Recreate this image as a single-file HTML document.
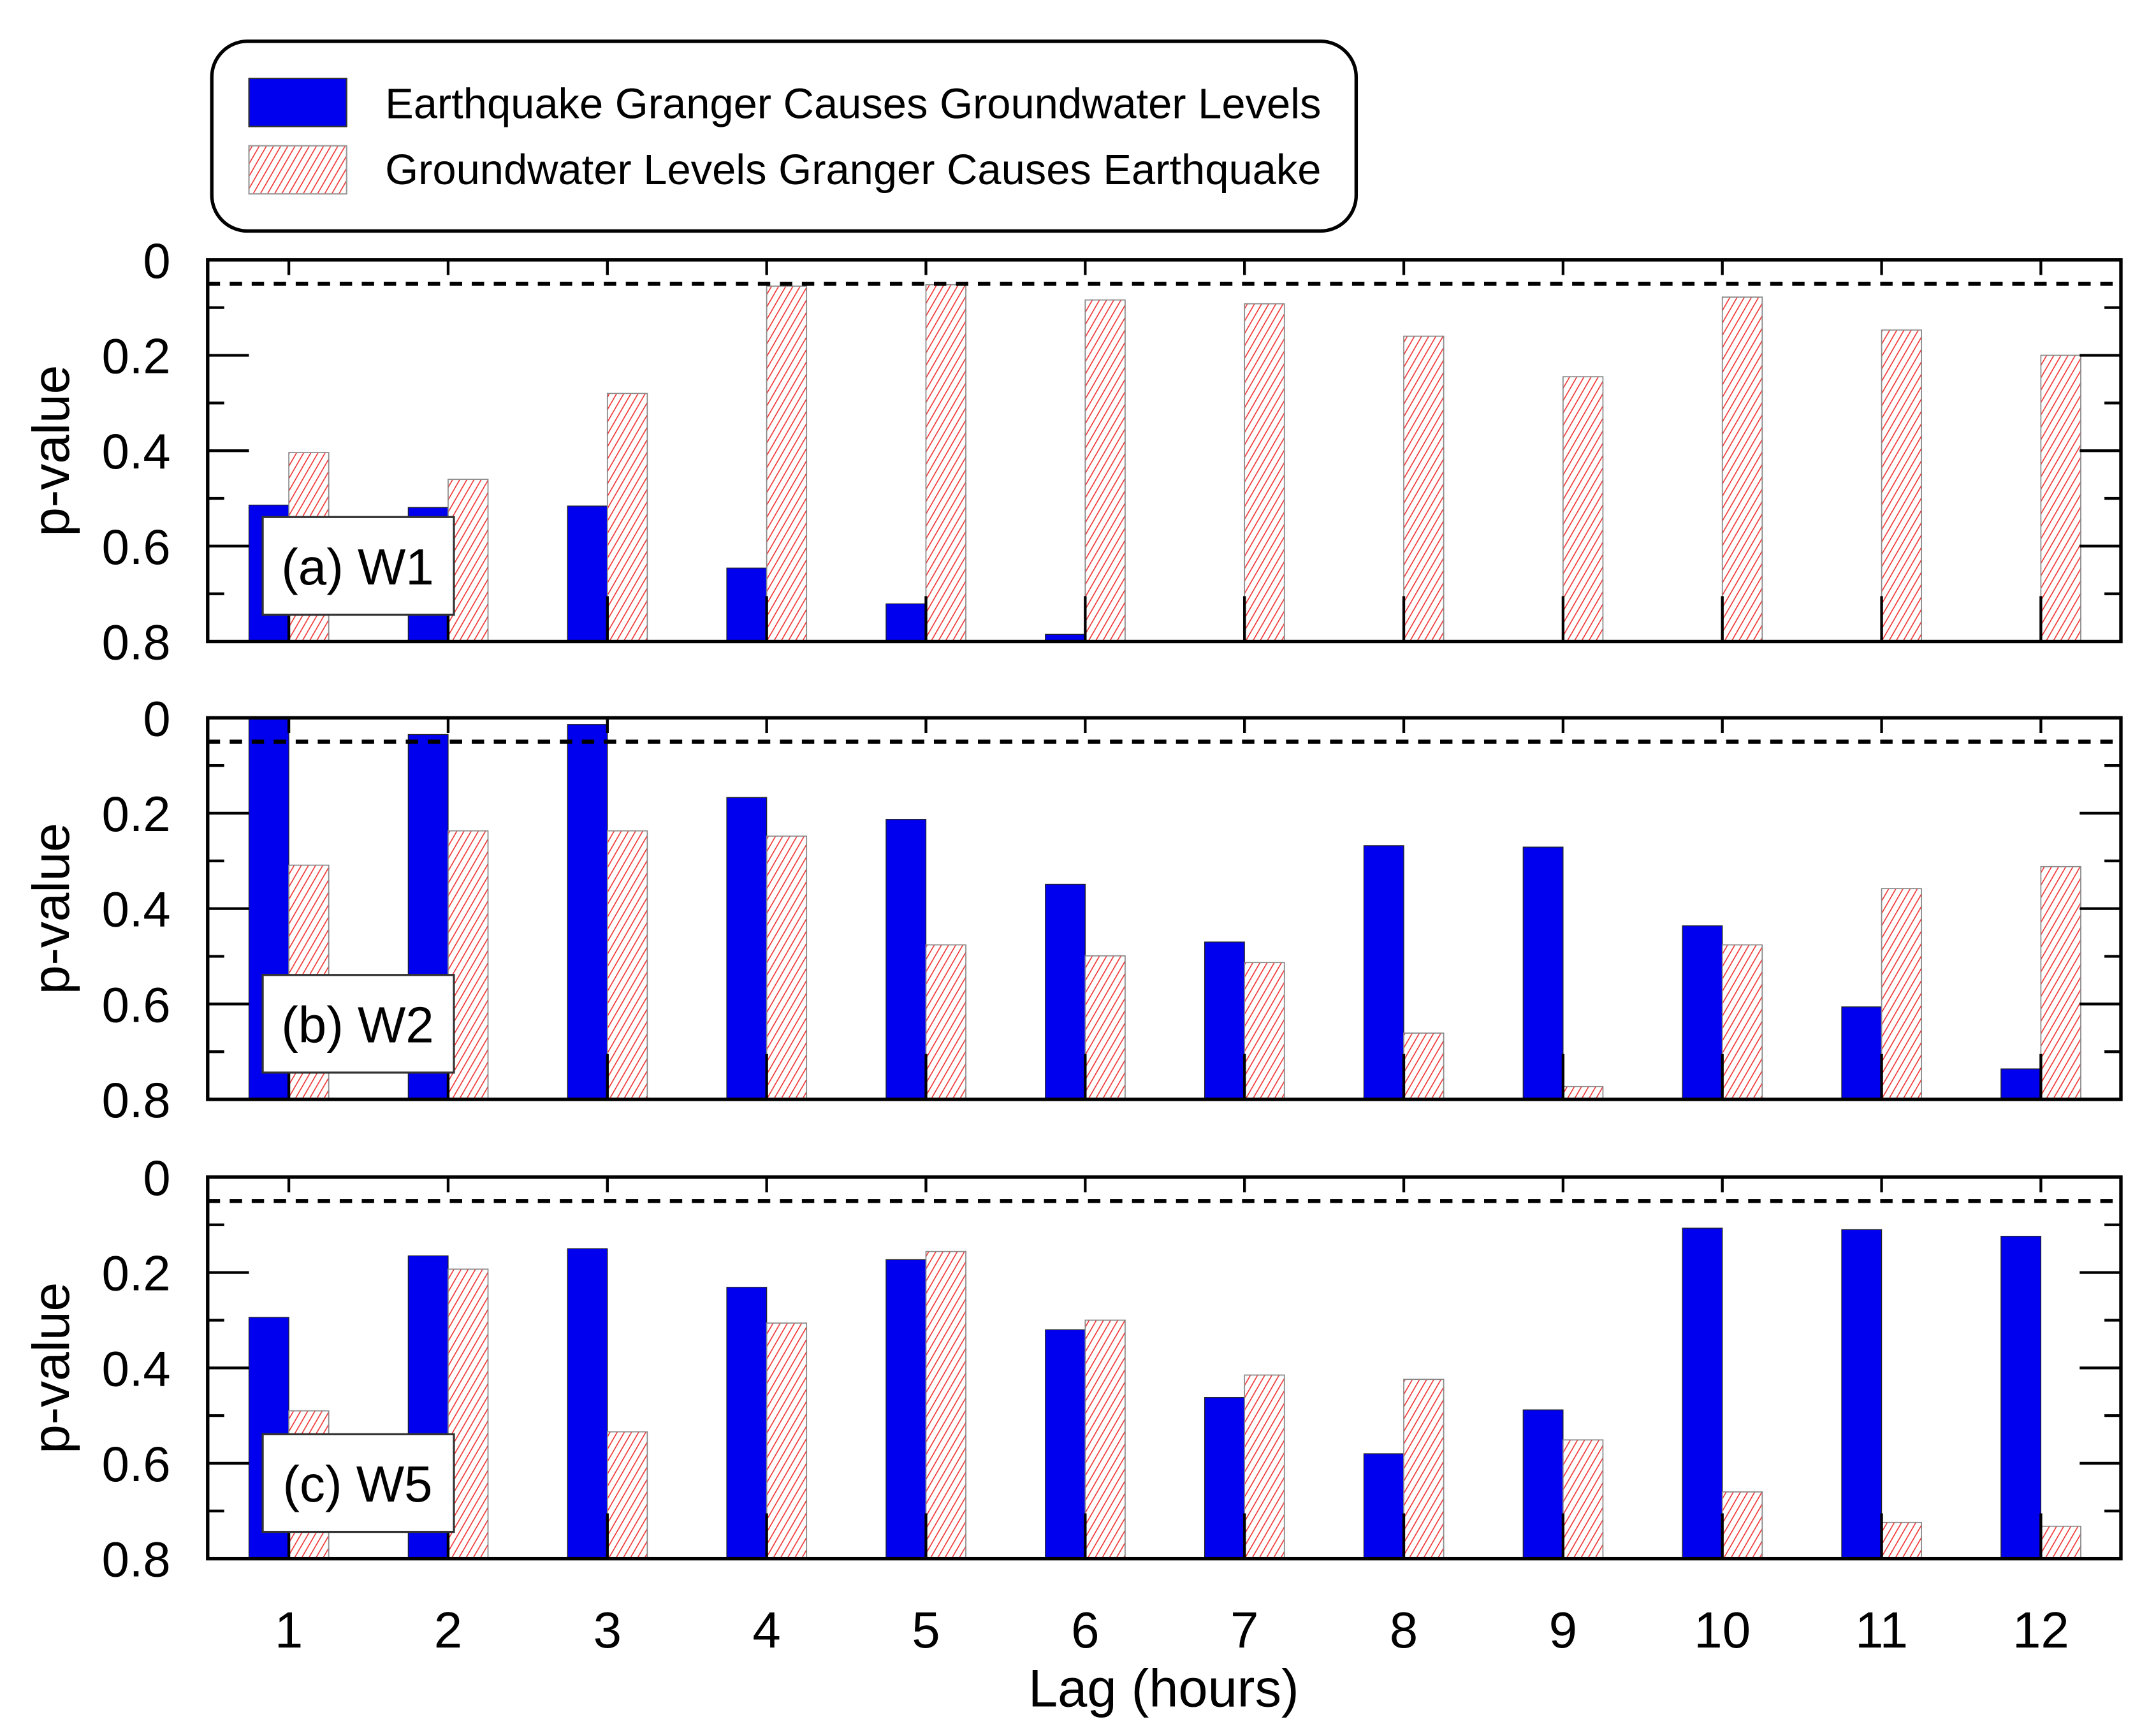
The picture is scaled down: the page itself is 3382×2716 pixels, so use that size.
<!DOCTYPE html>
<html><head><meta charset="utf-8"><style>
html,body{margin:0;padding:0;background:#fff;}
svg{display:block;font-family:"Liberation Sans",Arial,sans-serif;}
</style></head><body>
<svg id="chart" width="3382" height="2716" viewBox="0 0 1567.5 1258.8" preserveAspectRatio="none" xmlns="http://www.w3.org/2000/svg">
<defs>
<pattern id="hatch" patternUnits="userSpaceOnUse" width="4.5" height="4.5" patternTransform="rotate(30)">
<rect width="4.5" height="4.5" fill="#fff"/>
<line x1="0" y1="0" x2="0" y2="4.5" stroke="#f03030" stroke-width="1.5"/>
</pattern>
</defs>
<g>
<rect x="154" y="30" width="832" height="138" rx="26" fill="#fff" stroke="#000" stroke-width="2.5"/>
<rect x="181" y="57" width="71" height="35" fill="#0000ee" stroke="#333" stroke-width="1"/>
<text x="280" y="86" font-size="31">Earthquake Granger Causes Groundwater Levels</text>
<rect x="181" y="106" width="71" height="35" fill="url(#hatch)" stroke="#999" stroke-width="1"/>
<text x="280" y="134" font-size="31">Groundwater Levels Granger Causes Earthquake</text>
</g>
<g id="panels"></g>
<g id="xlabels"></g>
<text x="846" y="1241" font-size="38.5" text-anchor="middle">Lag (hours)</text>
</svg>
<script>
const lags = [1,2,3,4,5,6,7,8,9,10,11,12];
const panelNames = ["(a) W1","(b) W2","(c) W5"];
const yTickLabels = ["0","0.2","0.4","0.6","0.8"];
const threshold = 0.05;
const blueA = [0.514,0.519,0.516,0.646,0.721,0.785,0.8,0.8,0.8,0.8,0.8,0.8];
const redA  = [0.404,0.46,0.28,0.055,0.052,0.084,0.092,0.16,0.245,0.078,0.147,0.2];
const blueB = [0.0,0.035,0.014,0.167,0.213,0.349,0.47,0.268,0.271,0.436,0.606,0.736];
const redB  = [0.309,0.237,0.237,0.248,0.476,0.499,0.513,0.661,0.773,0.476,0.358,0.312];
const blueC = [0.294,0.165,0.15,0.231,0.173,0.32,0.462,0.58,0.488,0.107,0.11,0.124];
const redC  = [0.49,0.193,0.534,0.306,0.156,0.3,0.415,0.424,0.551,0.66,0.724,0.732];

const NS="http://www.w3.org/2000/svg";
const X0=151,X1=1542,PH=277.5,YMAX=0.8;
const panelTops=[189,522,856];
const blues=[blueA,blueB,blueC], reds=[redA,redB,redC];
const xc = l => 210 + (l-1)*115.8;
const BW=29;
function mk(tag,attrs,parent){const e=document.createElementNS(NS,tag);for(const k in attrs)e.setAttribute(k,attrs[k]);parent.appendChild(e);return e;}
const root=document.getElementById('panels');
panelTops.forEach((top,p)=>{
  const y = v => top + v/YMAX*PH;
  const g=mk('g',{},root);
  
  
  lags.forEach((l,i)=>{
    const bv=blues[p][i];
    if(bv<YMAX){
      const b=mk('rect',{x:xc(l)-BW,y:y(bv),width:BW,height:y(YMAX)-y(bv),fill:'#0000ee',stroke:'#222','stroke-width':0.6},g);
      
      
    }
    const rv=reds[p][i];
    const r=mk('rect',{x:xc(l),y:y(rv),width:BW,height:y(YMAX)-y(rv),fill:'url(#hatch)',stroke:'#888','stroke-width':0.8},g);
    
    
  });
  lags.forEach(l=>{
    mk('line',{x1:xc(l),x2:xc(l),y1:top,y2:top+11,stroke:'#000','stroke-width':2},g);
    mk('line',{x1:xc(l),x2:xc(l),y1:y(YMAX),y2:y(YMAX)-33,stroke:'#000','stroke-width':2},g);
  });
  for(let k=1;k<8;k++){
    const v=k*0.1, major=(k%2===0);
    mk('line',{x1:X0,x2:X0+(major?30:12),y1:y(v),y2:y(v),stroke:'#000','stroke-width':2},g);
    mk('line',{x1:X1,x2:X1-(major?30:12),y1:y(v),y2:y(v),stroke:'#000','stroke-width':2},g);
  }
  const d=mk('line',{x1:X0,x2:X1,y1:y(threshold),y2:y(threshold),stroke:'#000','stroke-width':3,'stroke-dasharray':'9,7'},g);
  
  
  const f=mk('rect',{x:X0,y:top,width:X1-X0,height:PH,fill:'none',stroke:'#000','stroke-width':2.5},g);
  
  
  yTickLabels.forEach((t,k)=>{
    const tx=mk('text',{x:124,y:y(k*0.2)+13,'font-size':36,'text-anchor':'end'},g);
    tx.textContent=t;
    
    
  });
  const yt=mk('text',{x:0,y:0,'font-size':38,'text-anchor':'middle',transform:`translate(50,${top+PH/2}) rotate(-90)`},g);
  yt.textContent='p-value';
  
  
  const lb=mk('rect',{x:191,y:top+187,width:139,height:71,fill:'#fff',stroke:'#333','stroke-width':1.5},g);
  
  
  const lt=mk('text',{x:260,y:top+236,'font-size':37,'text-anchor':'middle'},g);
  lt.textContent=panelNames[p];
  
  
});
const xl=document.getElementById('xlabels');
lags.forEach(l=>{
  const t=mk('text',{x:xc(l),y:1198,'font-size':37,'text-anchor':'middle'},xl);
  t.textContent=String(l);
  
  
});
</script>
</body></html>
